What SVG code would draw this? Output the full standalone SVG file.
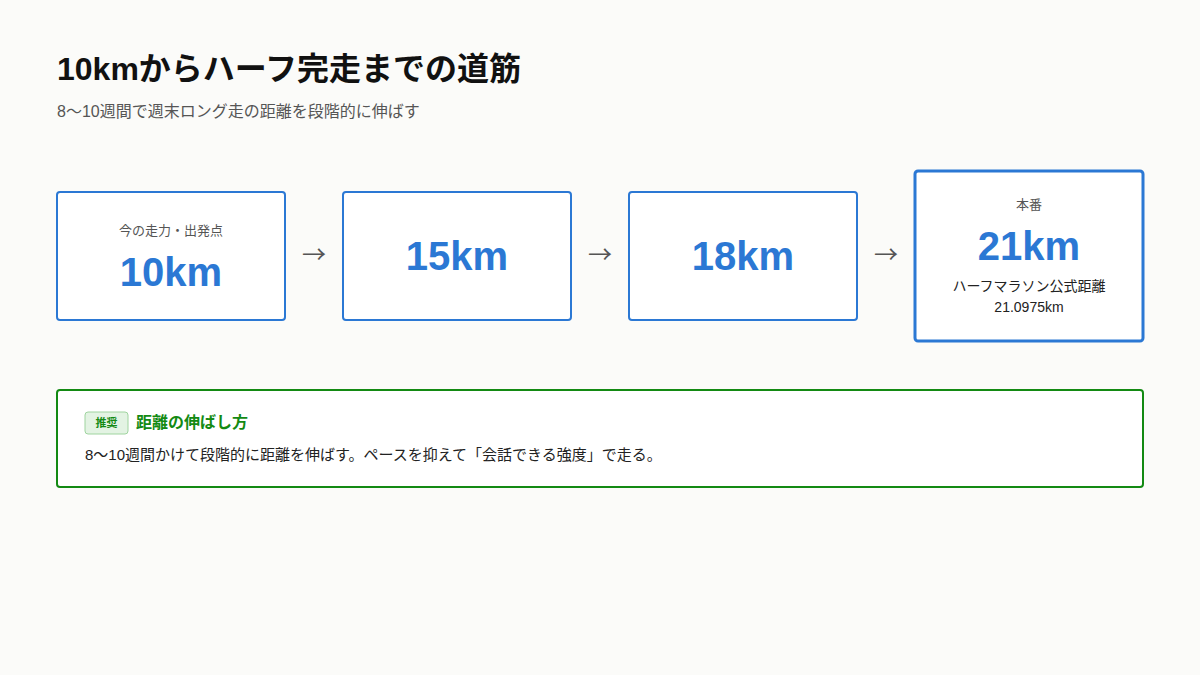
<svg xmlns="http://www.w3.org/2000/svg" width="1200" height="675" viewBox="0 0 1200 675">
<style>
text{font-family:"Liberation Sans","Noto Sans CJK JP",sans-serif}
.box{fill:#ffffff;stroke:#2b78d4;stroke-width:2}
.lbl{font-size:13px;fill:#555555;text-anchor:middle}
.big{font-size:40px;font-weight:bold;fill:#2b78d4;text-anchor:middle}
.arr{font-size:24px;fill:#555555;text-anchor:middle;font-family:"Noto Sans CJK JP",sans-serif}
.sub{font-size:14px;fill:#222222;text-anchor:middle}
</style>
<rect width="1200" height="675" fill="#fbfbf9"/>
<text x="57" y="80" font-size="32" font-weight="bold" fill="#111111">10kmからハーフ完走までの道筋</text>
<text x="57" y="117" font-size="16" fill="#555555">8〜10週間で週末ロング走の距離を段階的に伸ばす</text>
<g id="node-10km">
<rect class="box" x="57" y="192" width="228" height="128" rx="3"/>
<text class="lbl" x="171" y="235">今の走力・出発点</text>
<text class="big" x="171" y="286">10km</text>
</g>
<g id="node-15km">
<rect class="box" x="343" y="192" width="228" height="128" rx="3"/>
<text class="big" x="457" y="270">15km</text>
</g>
<g id="node-18km">
<rect class="box" x="629" y="192" width="228" height="128" rx="3"/>
<text class="big" x="743" y="270">18km</text>
</g>
<g id="node-21km">
<rect class="box" x="915" y="171" width="228" height="170" rx="3" style="stroke-width:3"/>
<text class="lbl" x="1029" y="209">本番</text>
<text class="big" x="1029" y="260">21km</text>
<text class="sub" x="1029" y="291">ハーフマラソン公式距離</text>
<text class="sub" x="1029" y="312">21.0975km</text>
</g>
<g id="connectors">
<text class="arr" x="314" y="263">→</text>
<text class="arr" x="600" y="263">→</text>
<text class="arr" x="886" y="263">→</text>
</g>
<g id="note">
<rect x="57" y="390" width="1086" height="97" rx="3" fill="#ffffff" stroke="#138a13" stroke-width="2"/>
<rect x="85" y="412" width="43" height="22" rx="3" fill="#e3f3e3" stroke="#9fd49f" stroke-width="1"/>
<text x="106.5" y="427" font-size="11" font-weight="bold" fill="#138a13" text-anchor="middle">推奨</text>
<text x="136" y="428" font-size="16" font-weight="bold" fill="#138a13">距離の伸ばし方</text>
<text x="85" y="460" font-size="15" fill="#222222">8〜10週間かけて段階的に距離を伸ばす。ペースを抑えて「会話できる強度」で走る。</text>
</g>
</svg>
